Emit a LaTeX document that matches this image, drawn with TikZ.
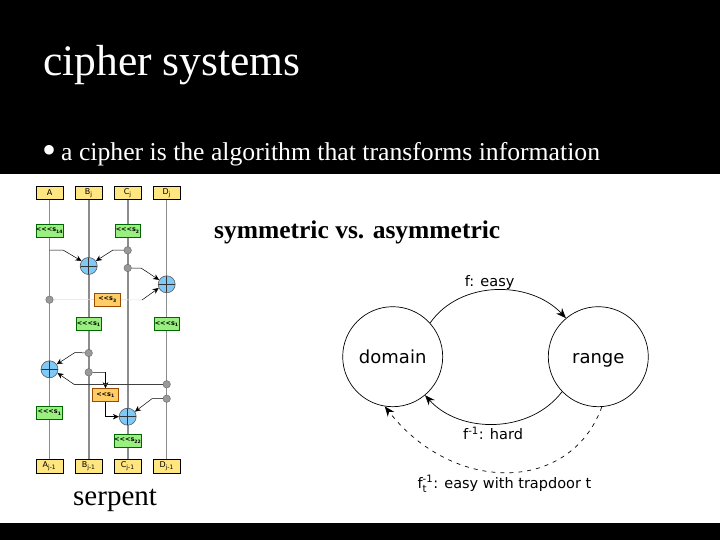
\documentclass[tikz,border=0pt]{standalone}
\usepackage{amsmath}
\usepackage{fontspec}
\setmainfont{Liberation Serif}
\newfontfamily\diagfont{DejaVu Sans}
\usetikzlibrary{arrows.meta,backgrounds}
\definecolor{wordfill}{HTML}{FFE680}
\definecolor{rotfill}{HTML}{99F080}
\definecolor{shiftfill}{HTML}{FFCC66}
\definecolor{addfill}{HTML}{80C8F5}
\tikzset{
    wordbox/.style={draw=black,fill=wordfill,line width=1pt,minimum width=27pt,minimum height=13.5pt,inner sep=0pt,font=\diagfont\fontsize{8}{8}\selectfont},
    rotbox/.style={draw=green!40!black,fill=rotfill,line width=0.7pt,minimum width=25.5pt,minimum height=13pt,inner sep=0pt,font=\diagfont\bfseries\fontsize{6.5}{6.5}\selectfont},
    shiftbox/.style={draw=orange!60!black,fill=shiftfill,line width=0.6pt,minimum width=25.5pt,minimum height=13pt,inner sep=0pt,font=\diagfont\bfseries\fontsize{6.5}{6.5}\selectfont},
    addnode/.style={circle,draw=black!65,fill=addfill,line width=0.6pt,minimum size=17pt,inner sep=0pt,
        path picture={\draw[black!80,line width=0.8pt] (path picture bounding box.north) -- (path picture bounding box.south) (path picture bounding box.west) -- (path picture bounding box.east);}},
    tapnode/.style={circle,draw=black!60,fill=black!40,line width=0.4pt,minimum size=7.5pt,inner sep=0pt},
    wirethin/.style={draw=black!45,line width=1.2pt},
    wirethick/.style={draw=black!45,line width=2pt},
    feed/.style={draw=black,line width=0.5pt,-{Stealth[length=6pt,width=5.5pt]}},
    faintwire/.style={draw=black!12,line width=0.6pt},
    setnode/.style={circle,draw=black,line width=0.7pt,minimum size=100pt,inner sep=0pt,text height=13pt,text depth=0pt,font=\diagfont\fontsize{18}{18}\selectfont},
    maparrow/.style={draw=black,line width=0.7pt,-{Stealth[length=10pt,width=8pt]}},
    maplabel/.style={inner sep=0pt,font=\diagfont\fontsize{14.5}{14.5}\selectfont},
    slidetext/.style={inner sep=0pt,anchor=base west}
}
\begin{document}
\begin{tikzpicture}[x=1pt,y=-1pt]
\useasboundingbox (0,0) rectangle (720,540);

\node[slidetext,white,font=\fontsize{43.5}{43.5}\selectfont] (title) at (43,76) {cipher systems};
\node[slidetext,white,font=\fontsize{40}{40}\selectfont] (bullet) at (42,164) {\textbullet};
\node[slidetext,white,font=\fontsize{25.7}{25.7}\selectfont] (intro) at (61,161) {a cipher is the algorithm that transforms information};
\node[slidetext,font=\bfseries\fontsize{25.5}{25.5}\selectfont] (compare) at (214,238) {symmetric vs. asymmetric};
\node[slidetext,font=\fontsize{29}{29}\selectfont] (serpent) at (73,505) {serpent};

\node[wordbox] (At) at (49.5,193) {A};
\node[wordbox] (Bt) at (88.7,193) {B\textsubscript{j}};
\node[wordbox] (Ct) at (127.7,193) {C\textsubscript{j}};
\node[wordbox] (Dt) at (166.7,193) {D\textsubscript{j}};
\node[wordbox] (Ab) at (49.5,466.5) {A\textsubscript{j-1}};
\node[wordbox] (Bb) at (88.7,466.5) {B\textsubscript{j-1}};
\node[wordbox] (Cb) at (127.7,466.5) {C\textsubscript{j-1}};
\node[wordbox] (Db) at (166.7,466.5) {D\textsubscript{j-1}};

\node[rotbox] (rotA1) at (49.5,230.5) {<<<s\textsubscript{14}};
\node[rotbox] (rotC1) at (127.7,230.5) {<<<s\textsubscript{2}};
\node[rotbox] (rotB1) at (88.7,324) {<<<s\textsubscript{1}};
\node[rotbox] (rotD1) at (166.7,324) {<<<s\textsubscript{1}};
\node[rotbox] (rotA2) at (49.5,412.5) {<<<s\textsubscript{1}};
\node[rotbox] (rotC2) at (127.7,440.5) {<<<s\textsubscript{22}};
\node[shiftbox] (shiftA) at (107.5,299.5) {<<s\textsubscript{3}};
\node[shiftbox] (shiftB) at (105.5,395) {<<s\textsubscript{1}};

\node[addnode] (addB) at (88.7,266) {};
\node[addnode] (addD) at (166.7,284.3) {};
\node[addnode] (addA) at (49.5,369.3) {};
\node[addnode] (addC) at (127.7,416.7) {};

\foreach \name/\x/\y in {tapC1/127.7/250.3,tapC2/127.7/268,tapA1/49.5/299.7,tapB1/88.7/353,tapB2/88.7/372.3,tapD1/166.7/384.3,tapD2/166.7/398.7} {
    \node[tapnode] (\name) at (\x,\y) {};
}

\coordinate (tapA0) at (49.5,250);
\coordinate (kneeA) at (63,250);
\coordinate (kneeC1) at (113,250);
\coordinate (kneeC2) at (141,268);
\coordinate (kneeS) at (142,300);
\coordinate (kneeB1) at (75,352.5);
\coordinate (kneeB2) at (105.5,372.3);
\coordinate (kneeO) at (105.5,416.7);
\coordinate (kneeD1) at (74,384.3);
\coordinate (kneeD2) at (152,398.7);

\begin{scope}[on background layer]
\fill[black] (0,0) rectangle (720,540);
\fill[white] (0,174) rectangle (720,523);
\draw[wirethin] (At) -- (Ab);
\draw[wirethick] (Bt) -- (Bb);
\draw[wirethick] (Ct) -- (Cb);
\draw[wirethin] (Dt) -- (Db);
\draw[faintwire] (tapA1) -- (shiftA);
\draw[faintwire] (shiftA) -- (kneeS);
\end{scope}

\draw[feed] (tapA0) -- (kneeA) -- (addB.145);
\draw[feed] (tapC1) -- (kneeC1) -- (addB.35);
\draw[feed] (tapC2) -- (kneeC2) -- (addD.150);
\draw[feed] (kneeS) -- (addD.205);
\draw[feed] (tapB1) -- (kneeB1) -- (addA.35);
\draw[draw=black!60,line width=0.6pt] (tapB2) -- (kneeB2);
\draw[feed] (kneeB2) -- (shiftB);
\draw[feed] (shiftB) -- (kneeO) -- (addC);
\draw[draw=black!75,line width=1.1pt] (tapD1) -- (kneeD1);
\draw[feed] (kneeD1) -- (addA.-25);
\draw[feed] (tapD2) -- (kneeD2) -- (addC.35);

\node[setnode] (domain) at (392.7,356.7) {domain};
\node[setnode] (range) at (598.3,356.7) {range};

\draw[maparrow] (domain.42) .. controls (460,280) and (530,280) .. (range.130) node[maplabel,pos=0.46,above=1pt] (easy) {f: easy};
\draw[maparrow] (range.224) .. controls (530,434) and (460,434) .. (domain.310) node[maplabel,pos=0.51,below=3pt] (hard) {f\textsuperscript{-1}: hard};
\draw[maparrow,dash pattern=on 4pt off 5pt] (range.274) .. controls (570,494) and (453,494) .. (domain.261) node[maplabel,pos=0.51,below=3pt] (trap) {f$^{\text{-1}}_{\text{t}}$: easy with trapdoor t};
\end{tikzpicture}
\end{document}
